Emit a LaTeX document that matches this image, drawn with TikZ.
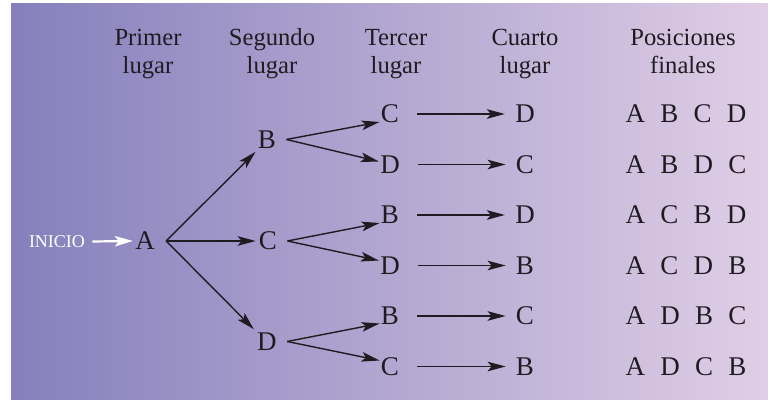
\documentclass[tikz,border=0pt]{standalone}
\usepackage{fontspec}
\setmainfont{Liberation Serif}
\usetikzlibrary{arrows.meta}
\definecolor{bgL}{RGB}{133,128,188}
\definecolor{bgR}{RGB}{224,206,230}
\definecolor{ink}{RGB}{30,28,32}
\begin{document}
\begin{tikzpicture}[x=0.5pt,y=-0.5pt,
  lt/.style={font=\fontsize{13.5}{16}\selectfont, text=ink, inner sep=0pt},
  hd/.style={font=\fontsize{12.3}{14}\selectfont, text=ink, inner sep=0pt, align=center, anchor=base},
  arr/.style={draw=ink, line width=0.7pt, -{Stealth[length=9pt,width=4.8pt,inset=2pt]}},
  warr/.style={draw=white, line width=1.1pt, -{Stealth[length=9pt,width=5.2pt,inset=2pt]}},
]
\useasboundingbox (0,0) rectangle (768,400);
\shade[left color=bgL, right color=bgR] (11,4) rectangle (768,400);

% headers
\node[hd] (h1) at (148,74) {Primer\\lugar};
\node[hd] (h2) at (272,74) {Segundo\\lugar};
\node[hd] (h3) at (396,74) {Tercer\\lugar};
\node[hd] (h4) at (525,74) {Cuarto\\lugar};
\node[hd] (h5) at (683,74) {Posiciones\\finales};

% start
\node[font=\fontsize{9}{10}\selectfont, text=white, inner sep=0pt] (ini) at (57,241.5) {INICIO};
\node[lt] (a) at (145,241) {A};

% second level
\node[lt] (b) at (267,139.5) {B};
\node[lt] (c) at (268,241) {C};
\node[lt] (d) at (267,341.5) {D};

% third level
\node[lt] (t1) at (390,114) {C};
\node[lt] (t2) at (390,164.5) {D};
\node[lt] (t3) at (390,215) {B};
\node[lt] (t4) at (390,265.5) {D};
\node[lt] (t5) at (390,316) {B};
\node[lt] (t6) at (390,366.5) {C};

% fourth level
\node[lt] (f1) at (525,114) {D};
\node[lt] (f2) at (525,164.5) {C};
\node[lt] (f3) at (525,215) {D};
\node[lt] (f4) at (525,265.5) {B};
\node[lt] (f5) at (525,316) {C};
\node[lt] (f6) at (525,366.5) {B};

% final positions
\newcommand{\gp}{\hspace{7.6pt}}
\node[lt] (p1) at (686,114) {A\gp B\gp C\gp D};
\node[lt] (p2) at (686,164.5) {A\gp B\gp D\gp C};
\node[lt] (p3) at (686,215) {A\gp C\gp B\gp D};
\node[lt] (p4) at (686,265.5) {A\gp C\gp D\gp B};
\node[lt] (p5) at (686,316) {A\gp D\gp B\gp C};
\node[lt] (p6) at (686,366.5) {A\gp D\gp C\gp B};

% connectors
\draw[warr] ([xshift=3.5pt]ini.east) -- ([xshift=-1pt]a.west);
\draw[arr] ([xshift=5.5pt]a.east) -- ([xshift=-1pt,yshift=-1.5pt]b.south west);
\draw[arr] ([xshift=5.5pt]a.east) -- ([xshift=-1.5pt]c.west);
\draw[arr] ([xshift=5.5pt]a.east) -- ([xshift=-1.5pt,yshift=1.5pt]d.north west);

\draw[arr] ([xshift=5pt]b.east) -- ([xshift=-0.5pt,yshift=-4pt]t1.west);
\draw[arr] ([xshift=5pt]b.east) -- ([xshift=-0.5pt,yshift=1.5pt]t2.west);
\draw[arr] ([xshift=5pt]c.east) -- ([xshift=-0.5pt,yshift=-4pt]t3.west);
\draw[arr] ([xshift=5pt]c.east) -- ([xshift=-0.5pt,yshift=2.5pt]t4.west);
\draw[arr] ([xshift=5pt]d.east) -- ([xshift=-0.5pt,yshift=-3.75pt]t5.west);
\draw[arr] ([xshift=5pt]d.east) -- ([xshift=-0.5pt,yshift=3pt]t6.west);

\foreach \i in {1,...,6}{
  \draw[arr] ([xshift=9pt]t\i.east) -- ([xshift=-5pt]f\i.west);
}
\end{tikzpicture}
\end{document}
